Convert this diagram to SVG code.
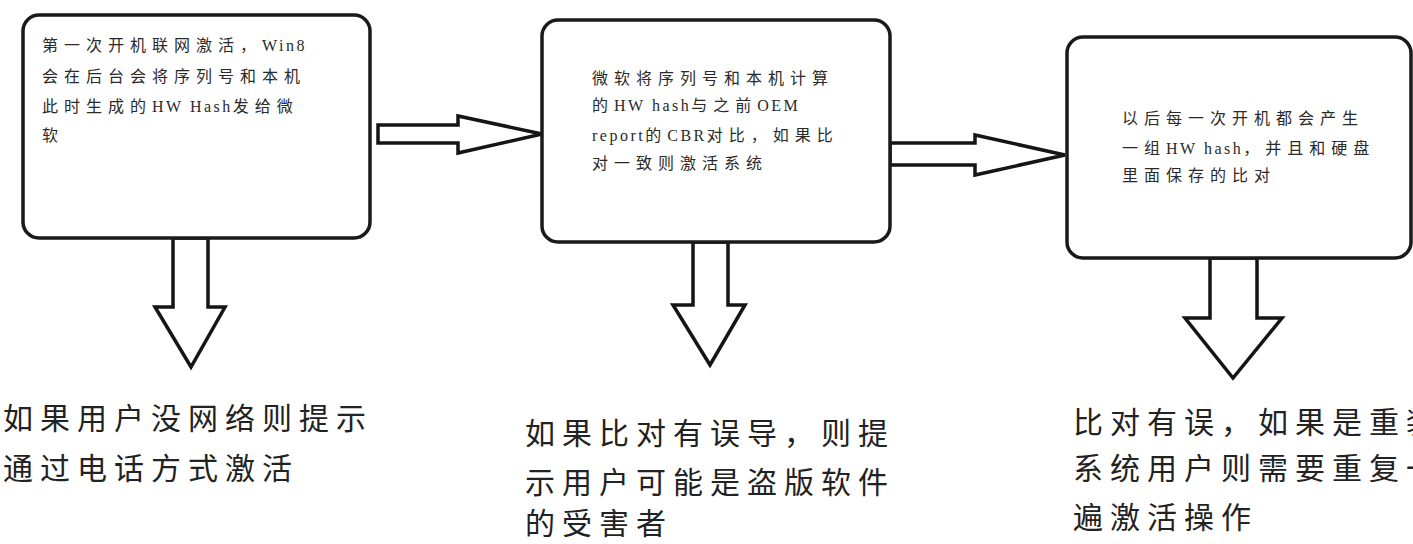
<svg xmlns="http://www.w3.org/2000/svg" width="1413" height="544" viewBox="0 0 1413 544">
<style>
.box{fill:#fff;stroke:#1a1a1a;stroke-width:3.5}
.arr{fill:#fff;stroke:#151515;stroke-width:3.5;stroke-linejoin:miter}
.bt{font-family:"Liberation Serif","Noto Sans CJK SC",serif;font-size:16px;fill:#2a2a2a;letter-spacing:6px}
.l{letter-spacing:2.5px}
.lt{font-family:"Noto Sans CJK SC","Noto Sans",sans-serif;font-size:30px;fill:#222;letter-spacing:7px}
</style>
<rect width="1413" height="544" fill="#fff"/>
<g id="connectors">
<path class="arr" d="M378,125 L458,125 L458,116 L542,134 L458,153 L458,143 L378,143 Z"/>
<path class="arr" d="M890,143 L975,143 L975,135 L1065,155 L975,175 L975,165 L890,165 Z"/>
<path class="arr" d="M173,238 L173,307 L155,307 L191,367 L225,307 L208,307 L208,238 Z"/>
<path class="arr" d="M693,242 L693,305 L673,305 L710,365 L745,305 L728,305 L728,242 Z"/>
<path class="arr" d="M1210,258 L1210,318 L1185,318 L1233,378 L1282,318 L1257,318 L1257,258 Z"/>
</g>
<g id="node1">
<rect class="box" x="23" y="15" width="347" height="223" rx="16"/>
<text class="bt" x="42" y="51">第一次开机联网激活，<tspan class="l">Win8</tspan></text>
<text class="bt" x="42" y="82">会在后台会将序列号和本机</text>
<text class="bt" x="42" y="112">此时生成的<tspan class="l">HW Hash</tspan>发给微</text>
<text class="bt" x="42" y="141">软</text>
</g>
<g id="node2">
<rect class="box" x="542" y="20" width="348" height="222" rx="16"/>
<text class="bt" x="592" y="84">微软将序列号和本机计算</text>
<text class="bt" x="592" y="111">的<tspan class="l">HW hash</tspan>与之前<tspan class="l">OEM</tspan></text>
<text class="bt" x="592" y="141"><tspan class="l">report</tspan>的<tspan class="l">CBR</tspan>对比，如果比</text>
<text class="bt" x="592" y="169">对一致则激活系统</text>
</g>
<g id="node3">
<rect class="box" x="1067" y="37" width="344" height="221" rx="16"/>
<text class="bt" x="1122" y="124">以后每一次开机都会产生</text>
<text class="bt" x="1122" y="154">一组<tspan class="l">HW hash</tspan>，并且和硬盘</text>
<text class="bt" x="1122" y="181">里面保存的比对</text>
</g>
<g id="result1">
<text class="lt" x="3" y="429">如果用户没网络则提示</text>
<text class="lt" x="3" y="479">通过电话方式激活</text>
</g>
<g id="result2">
<text class="lt" x="525" y="444">如果比对有误导，则提</text>
<text class="lt" x="525" y="493">示用户可能是盗版软件</text>
<text class="lt" x="525" y="534">的受害者</text>
</g>
<g id="result3">
<text class="lt" x="1073" y="433">比对有误，如果是重装</text>
<text class="lt" x="1073" y="479">系统用户则需要重复一</text>
<text class="lt" x="1073" y="528">遍激活操作</text>
</g>
</svg>
